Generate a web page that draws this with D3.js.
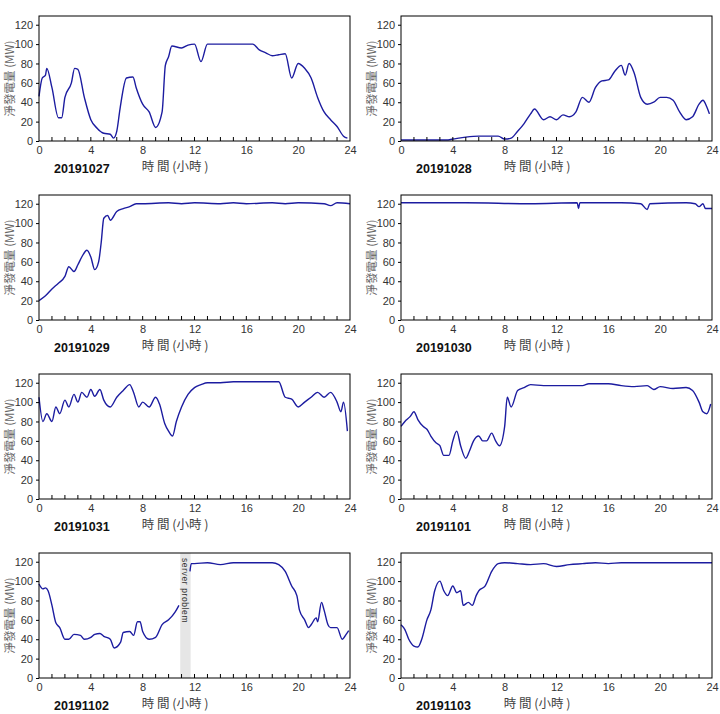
<!DOCTYPE html>
<html><head><meta charset="utf-8">
<script src="https://cdn.jsdelivr.net/npm/d3@7"></script>
<style>body{margin:0;background:#fff}svg{font-family:"Liberation Sans",Arial,sans-serif}</style>
</head><body><svg id="c" width="720" height="714"></svg>
<script>
const dates = ["20191027","20191028","20191029","20191030","20191031","20191101","20191102","20191103"];
const xTicks = [0,4,8,12,16,20,24];
const yTicks = [0,20,40,60,80,100,120];
const gapDay = "20191102";
const gapRange = [10.9, 11.7];
const d1027 = [[0,46],[0.25,65],[0.5,68],[0.6,75],[1,55],[1.5,24],[1.75,24],[2,45],[2.5,60],[2.75,75],[3,74],[3.5,45],[4,22],[4.5,13],[5,8],[5.5,7],[5.75,3],[6,10],[6.25,33],[6.75,65],[7.25,66],[7.5,55],[8,38],[8.5,30],[9,14],[9.5,30],[9.75,78],[10,87],[10.25,98],[11,96],[11.5,99],[12,100],[12.5,82],[13,100],[16,100],[16.5,100],[17,94],[17.5,91],[18,88],[18.5,89],[19,90],[19.5,65],[20,80],[20.5,75],[21,65],[21.5,45],[22,30],[22.5,22],[23,15],[23.5,5],[23.8,3]];
const d1028 = [[0,1],[3.5,1],[4,2],[5,4],[6,5],[7.5,5],[8,2],[8.5,3],[9,10],[9.5,18],[10,28],[10.3,33],[11,22],[11.5,25],[12,22],[12.5,27],[13,25],[13.5,30],[14,45],[14.5,40],[15,55],[15.5,62],[16,63],[16.5,72],[17,78],[17.3,68],[17.6,80],[18,70],[18.5,45],[19,38],[19.5,40],[20,45],[20.5,45],[21,42],[21.5,30],[22,22],[22.5,25],[23,38],[23.3,42],[23.6,35],[23.8,28]];
const d1029 = [[0,20],[0.5,25],[1,32],[1.5,38],[2,45],[2.3,55],[2.7,50],[3,57],[3.3,65],[3.7,72],[4,65],[4.3,52],[4.6,60],[4.8,80],[5,105],[5.3,108],[5.5,103],[6,112],[6.5,115],[7,117],[7.5,120],[8,120],[10,121],[11,120],[12,121],[14,120],[15,121],[16,120],[18,121],[19,120],[20,121],[22,120],[22.5,118],[23,121],[24,120]];
const d1030 = [[0,121],[5,121],[10,120],[13.6,121],[13.7,115],[13.8,121],[17,121],[18.5,120],[19,114],[19.2,120],[22,121],[22.7,120],[23,117],[23.3,120],[23.5,115],[24,115]];
const d1031 = [[0,105],[0.3,80],[0.6,88],[1,80],[1.3,95],[1.6,88],[2,102],[2.3,95],[2.7,108],[3,100],[3.3,110],[3.7,105],[4,113],[4.3,106],[4.7,113],[5,102],[5.5,95],[6,105],[6.5,112],[7,118],[7.3,110],[7.7,95],[8,100],[8.5,95],[9,105],[9.3,98],[9.7,78],[10,70],[10.3,65],[10.6,80],[11,95],[11.5,108],[12,115],[12.5,118],[13,120],[14,120],[15,121],[18.5,121],[19,105],[19.5,103],[20,95],[20.5,100],[21,105],[21.5,110],[22,105],[22.5,110],[23,100],[23.3,90],[23.5,100],[23.8,70]];
const d1101 = [[0,75],[0.3,80],[0.7,85],[1,90],[1.3,82],[1.7,75],[2,72],[2.3,65],[2.7,58],[3,55],[3.3,45],[3.7,45],[4,60],[4.3,70],[4.6,55],[5,42],[5.3,50],[5.6,60],[6,65],[6.3,60],[6.6,60],[7,68],[7.3,60],[7.6,55],[8,75],[8.2,105],[8.5,95],[9,112],[9.5,115],[10,118],[11,117],[14,117],[14.5,119],[15,119],[16,119],[17,117],[18,116],[19,117],[19.5,113],[20,116],[21,114],[22,115],[22.5,112],[23,100],[23.3,90],[23.6,88],[23.9,98]];
const d1102 = [[0,97],[0.3,92],[0.5,93],[0.7,90],[1,75],[1.3,57],[1.6,52],[2,40],[2.3,40],[2.7,45],[3.2,44],[3.5,40],[4,42],[4.3,45],[4.7,46],[5,43],[5.5,40],[5.8,31],[6.3,37],[6.5,47],[7,48],[7.3,44],[7.6,58],[7.8,58],[8,48],[8.5,40],[9,42],[9.5,55],[10,60],[10.5,68],[10.8,75],[11.2,null],[11.65,110],[11.75,118],[12,118],[13,119],[14,117],[15,119],[17,119],[18,119],[18.5,117],[19,110],[19.5,95],[19.9,85],[20.1,70],[20.5,60],[20.8,52],[21,55],[21.4,62],[21.5,58],[21.8,78],[22,70],[22.3,55],[22.5,52],[23,52],[23.4,40],[23.7,45],[23.9,49]];
const d1103 = [[0,55],[0.3,50],[0.6,40],[1,33],[1.3,32],[1.6,40],[2,60],[2.3,70],[2.6,90],[3,100],[3.3,90],[3.6,85],[4,95],[4.3,88],[4.6,90],[4.8,75],[5.2,78],[5.5,75],[5.8,85],[6,90],[6.5,95],[7,110],[7.5,118],[8,119],[9,118],[10,117],[11,118],[12,115],[13,117],[14,118],[15,119],[16,118],[17,119],[20,119],[24,119]];
const series = [d1027,d1028,d1029,d1030,d1031,d1101,d1102,d1103];

const svg = d3.select("#c");
const W = 311, H = 125;
series.forEach((data, i) => {
  const col = i % 2, row = Math.floor(i / 2);
  const ox = col ? 401 : 39, oy = 16 + row * 179;
  const g = svg.append("g").attr("transform", `translate(${ox},${oy})`);
  const x = d3.scaleLinear().domain([0,24]).range([0,W]);
  const y = d3.scaleLinear().domain([0,129]).range([H,0]);
  if (dates[i] === gapDay) {
    g.append("rect").attr("x", x(gapRange[0])).attr("width", x(gapRange[1]) - x(gapRange[0]))
      .attr("y", 0).attr("height", H).attr("fill", "#e6e6e6");
    g.append("text").attr("transform", `translate(${x((gapRange[0]+gapRange[1])/2)-3},5) rotate(90)`)
      .attr("font-size", 8.5).attr("fill","#333").attr("letter-spacing", 0.6).text("server problem");
  }
  g.append("path").datum(data).attr("fill","none").attr("stroke","#1c1ca0").attr("stroke-width",1.4)
    .attr("d", d3.line().defined(d => d[1] !== null).curve(d3.curveMonotoneX).x(d => x(d[0])).y(d => y(d[1])));
  g.append("rect").attr("width", W).attr("height", H).attr("fill","none").attr("stroke","#000").attr("stroke-width",1);
  g.selectAll(".mt").data(d3.range(1,24)).enter().append("line")
    .attr("x1", d => x(d)).attr("x2", d => x(d)).attr("y1", H).attr("y2", H-4).attr("stroke","#000");
  const xa = g.append("g").attr("transform", `translate(0,${H})`)
    .call(d3.axisBottom(x).tickValues(xTicks).tickSize(0).tickPadding(5));
  const ya = g.append("g").call(d3.axisLeft(y).tickValues(yTicks).tickSize(3).tickPadding(3));
  [xa, ya].forEach(a => { a.select(".domain").remove(); a.selectAll("text").attr("font-size", 11).attr("fill","#333")
    .attr("font-family","'Liberation Sans',Arial,sans-serif"); });
  g.append("text").attr("transform", `translate(-25,${H/2}) rotate(-90)`).attr("text-anchor","middle")
    .attr("font-size", 11.5).attr("fill","#666").attr("font-family","'Noto Sans CJK TC',sans-serif")
    .text("淨發電量 (MW)");
  g.append("text").attr("x", x(10.5)).attr("y", H + 30).attr("text-anchor","middle").attr("font-size", 12.5)
    .attr("fill","#444").attr("font-family","'Noto Sans CJK TC',sans-serif").text("時 間 (小時 )");
  g.append("text").attr("x", 15).attr("y", H + 32).attr("font-size", 12.5).attr("font-weight","bold")
    .attr("fill","#111").text(dates[i]);
});
</script></body></html>
